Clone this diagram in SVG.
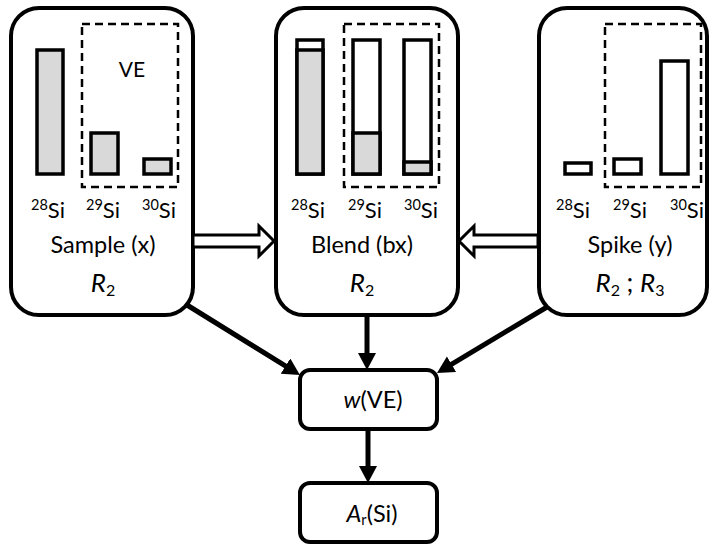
<svg xmlns="http://www.w3.org/2000/svg" width="712" height="545" viewBox="0 0 712 545">
<style>
.box{fill:#fff;stroke:#000;stroke-width:4}
.dash{fill:none;stroke:#000;stroke-width:2.5;stroke-dasharray:8 5}
.bar{stroke:#000;stroke-width:3.5}
.g{fill:#d9d9d9}
.w{fill:#fff}
text{font-family:Lato,"Open Sans",sans-serif;fill:#000}
.lbl{font-size:23.5px;text-anchor:middle}
.iso{font-size:22px;text-anchor:middle}
.sup{font-size:14.5px}
.it{font-style:italic}
.big{font-size:26px}
.hollow{fill:#fff;stroke:#000;stroke-width:3;stroke-linejoin:miter}
.conn{stroke:#000;stroke-width:5;fill:none;marker-end:url(#ah)}
</style>
<defs>
<marker id="ah" markerUnits="userSpaceOnUse" markerWidth="19" markerHeight="19" refX="6" refY="9" orient="auto">
<path d="M0,0 L17,9 L0,18 z" fill="#000"/>
</marker>
</defs>

<g id="sample">
<rect class="box" x="11" y="8" width="182" height="307" rx="28"/>
<rect class="dash" x="82" y="24" width="96" height="163"/>
<text class="lbl" x="132" y="77" style="font-size:21px">VE</text>
<rect class="bar g" x="37" y="50" width="26" height="124"/>
<rect class="bar g" x="91" y="133" width="27" height="41"/>
<rect class="bar g" x="144" y="159" width="27" height="15"/>
<text class="iso" x="48" y="218"><tspan class="sup" dy="-8">28</tspan><tspan dy="8">Si</tspan></text>
<text class="iso" x="103" y="218"><tspan class="sup" dy="-8">29</tspan><tspan dy="8">Si</tspan></text>
<text class="iso" x="159" y="218"><tspan class="sup" dy="-8">30</tspan><tspan dy="8">Si</tspan></text>
<text class="lbl" x="103" y="253">Sample (x)</text>
<text class="lbl big" x="103" y="292"><tspan class="it">R</tspan><tspan class="sup" style="font-size:16px" dy="4">2</tspan></text>
</g>

<g id="blend">
<rect class="box" x="276" y="8" width="182" height="307" rx="28"/>
<rect class="dash" x="344" y="24" width="95" height="163"/>
<rect class="bar w" x="297" y="40" width="26" height="134"/>
<rect class="bar g" x="297" y="50" width="26" height="124"/>
<rect class="bar w" x="353" y="40" width="27" height="134"/>
<rect class="bar g" x="353" y="133" width="27" height="41"/>
<rect class="bar w" x="404" y="40" width="27" height="134"/>
<rect class="bar g" x="404" y="162" width="27" height="12"/>
<text class="iso" x="308" y="218"><tspan class="sup" dy="-8">28</tspan><tspan dy="8">Si</tspan></text>
<text class="iso" x="365" y="218"><tspan class="sup" dy="-8">29</tspan><tspan dy="8">Si</tspan></text>
<text class="iso" x="421" y="218"><tspan class="sup" dy="-8">30</tspan><tspan dy="8">Si</tspan></text>
<text class="lbl" x="362" y="253">Blend (bx)</text>
<text class="lbl big" x="362" y="292"><tspan class="it">R</tspan><tspan class="sup" style="font-size:16px" dy="4">2</tspan></text>
</g>

<g id="spike">
<rect class="box" x="539" y="8" width="168" height="307" rx="28"/>
<rect class="dash" x="605" y="24" width="96" height="163"/>
<rect class="bar w" x="565" y="163" width="26" height="11"/>
<rect class="bar w" x="614" y="159" width="27" height="15"/>
<rect class="bar w" x="661" y="61" width="27" height="113"/>
<text class="iso" x="573" y="218"><tspan class="sup" dy="-8">28</tspan><tspan dy="8">Si</tspan></text>
<text class="iso" x="630" y="218"><tspan class="sup" dy="-8">29</tspan><tspan dy="8">Si</tspan></text>
<text class="iso" x="687" y="218"><tspan class="sup" dy="-8">30</tspan><tspan dy="8">Si</tspan></text>
<text class="lbl" x="630" y="253">Spike (y)</text>
<text class="lbl big" x="630" y="292"><tspan class="it">R</tspan><tspan class="sup" style="font-size:16px" dy="4">2</tspan><tspan dy="-4"> ; </tspan><tspan class="it">R</tspan><tspan class="sup" style="font-size:16px" dy="4">3</tspan></text>
</g>

<g id="wve">
<rect class="box" x="300" y="370" width="137" height="59" rx="10"/>
<text class="lbl" x="373" y="408"><tspan class="it">w</tspan>(VE)</text>
</g>

<g id="arsi">
<rect class="box" x="300" y="483" width="137" height="59" rx="10"/>
<text class="lbl" x="372" y="522"><tspan class="it">A</tspan><tspan class="sup" dy="3">r</tspan><tspan dy="-3">(Si)</tspan></text>
</g>

<g id="connectors">
<polygon class="hollow" points="193,235 259,235 259,226 274,241 259,256 259,247 193,247"/>
<polygon class="hollow" points="538,235 474,235 474,226 459,241 474,256 474,247 538,247"/>
<line class="conn" x1="187" y1="305" x2="290.6" y2="369.2"/>
<line class="conn" x1="547" y1="307" x2="446.4" y2="367.3"/>
<line class="conn" x1="367" y1="317" x2="367" y2="359"/>
<line class="conn" x1="368" y1="431" x2="368" y2="472"/>
</g>
</svg>
